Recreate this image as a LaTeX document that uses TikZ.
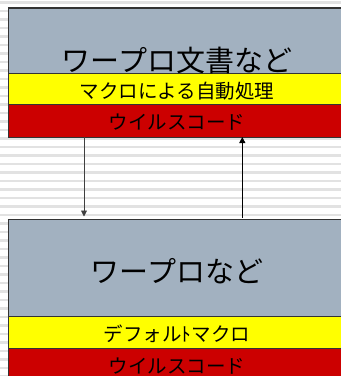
\documentclass[tikz,border=0pt]{standalone}
\usepackage{fontspec}
\setmainfont{Noto Sans CJK JP}
\usetikzlibrary{arrows.meta}
\definecolor{bandgray}{HTML}{A2B1C0}
\definecolor{bandyellow}{HTML}{FFFF00}
\definecolor{bandred}{HTML}{CC0000}
\definecolor{edge}{HTML}{333333}
\definecolor{stripe}{HTML}{E2E2E2}
\tikzset{
  band/.style={draw=edge, line width=0.9pt, anchor=north west, minimum width=337pt, inner sep=0pt, outer sep=0pt},
  bigtext/.style={font=\fontsize{29}{30}\selectfont, inner sep=0pt},
  smalltext/.style={font=\fontsize{19.5}{20}\selectfont, inner sep=0pt},
  conn/.style={-{Triangle[length=6pt,width=6pt]}, line width=0.9pt}
}
\begin{document}
\begin{tikzpicture}[x=1pt,y=-1pt]
\useasboundingbox (0,0) rectangle (341,376);
\clip (0,0) rectangle (341,376);
\fill[white] (0,0) rectangle (341,376);
\foreach \k in {0,...,44} {
  \fill[stripe] (0,{1+8.5*\k}) rectangle (341,{3.8+8.5*\k});
}
% top box
\node[band, fill=bandgray, minimum height=65pt] (tgray) at (8,8) {};
\node[band, fill=bandyellow, minimum height=31pt] (tyellow) at (8,73) {};
\node[band, fill=bandred, minimum height=33pt] (tred) at (8,104) {};
\draw[edge, line width=1.6pt] (tgray.north west) -- (tgray.north east);
\node[bigtext] (ttitle) at (177,60) {ワープロ文書など};
\node[smalltext] (tmacro) at (177,91) {マクロによる自動処理};
\node[smalltext] (tvirus) at (177,122) {ウイルスコード};
% bottom box
\node[band, fill=bandgray, minimum height=97pt] (bgray) at (8,219.5) {};
\node[band, fill=bandyellow, minimum height=31.5pt] (byellow) at (8,316.5) {};
\node[band, fill=bandred, minimum height=40pt] (bred) at (8,348) {};
\draw[edge, line width=1.6pt] (bgray.north west) -- (bgray.north east);
\node[bigtext] (btitle) at (177,271.5) {ワープロなど};
\node[smalltext] (bmacro) at (177,334) {デフォルﾄマクロ};
\node[smalltext] (bvirus) at (177,366) {ウイルスコード};
% connectors
\coordinate (xa) at (84,0);
\coordinate (xb) at (242.3,0);
\draw[conn, draw=black!75, fill=black!75] (tred.south -| xa) -- ([yshift=3pt]bgray.north -| xa);
\draw[conn] ([yshift=1.5pt]bgray.north -| xb) -- (tred.south -| xb);
\end{tikzpicture}
\end{document}
